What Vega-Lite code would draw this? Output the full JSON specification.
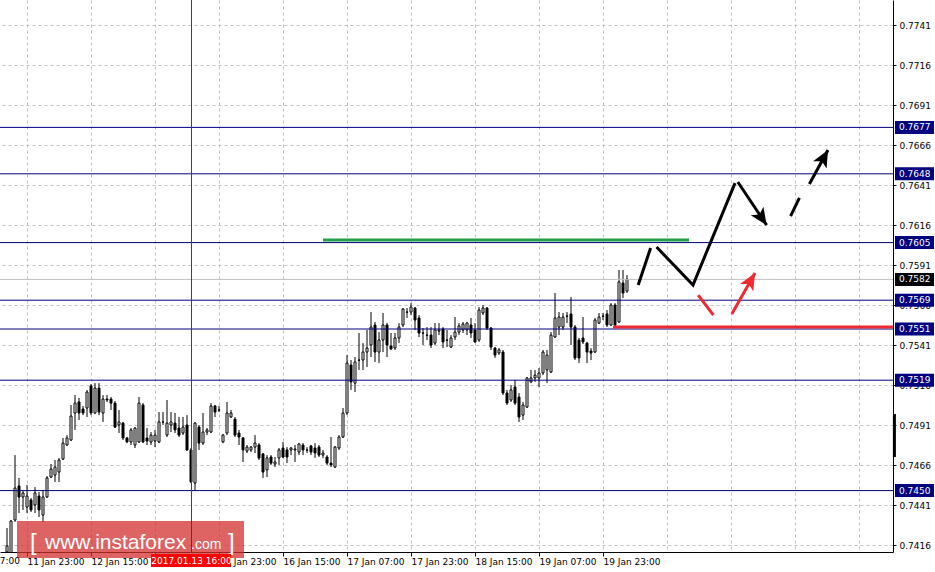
{
  "$schema": "https://vega.github.io/schema/vega-lite/v6.json",
  "width": 893,
  "height": 552,
  "autosize": "none",
  "padding": {"left": 0, "top": 0, "right": 42, "bottom": 20},
  "background": "white",
  "config": {"view": {"stroke": null}},
  "datasets": {
    "candles": [
      {"b":1,"o":0.74116,"h":0.74266,"l":0.7411,"c":0.74154},
      {"b":2,"o":0.7411,"h":0.74316,"l":0.7411,"c":0.7431},
      {"b":3,"o":0.74316,"h":0.74722,"l":0.74304,"c":0.74516},
      {"b":4,"o":0.74529,"h":0.74579,"l":0.7436,"c":0.7446},
      {"b":5,"o":0.7446,"h":0.74497,"l":0.74379,"c":0.74485},
      {"b":6,"o":0.74397,"h":0.74535,"l":0.7436,"c":0.74466},
      {"b":7,"o":0.74441,"h":0.74454,"l":0.74366,"c":0.74379},
      {"b":8,"o":0.7441,"h":0.74522,"l":0.7436,"c":0.74485},
      {"b":9,"o":0.74466,"h":0.74491,"l":0.74335,"c":0.74379},
      {"b":10,"o":0.74347,"h":0.74504,"l":0.74304,"c":0.7446},
      {"b":11,"o":0.7446,"h":0.74591,"l":0.74454,"c":0.74579},
      {"b":12,"o":0.74585,"h":0.74666,"l":0.74579,"c":0.74635},
      {"b":13,"o":0.74597,"h":0.74691,"l":0.74554,"c":0.74647},
      {"b":14,"o":0.74616,"h":0.74704,"l":0.74554,"c":0.74691},
      {"b":15,"o":0.74697,"h":0.74829,"l":0.74691,"c":0.74797},
      {"b":16,"o":0.74785,"h":0.74847,"l":0.74779,"c":0.74829},
      {"b":17,"o":0.74816,"h":0.75035,"l":0.7481,"c":0.74966},
      {"b":18,"o":0.74985,"h":0.75097,"l":0.74879,"c":0.75047},
      {"b":19,"o":0.75054,"h":0.75079,"l":0.74941,"c":0.74985},
      {"b":20,"o":0.7501,"h":0.75029,"l":0.74972,"c":0.74985},
      {"b":21,"o":0.75016,"h":0.75129,"l":0.7496,"c":0.75116},
      {"b":22,"o":0.75154,"h":0.75166,"l":0.74972,"c":0.74985},
      {"b":23,"o":0.74985,"h":0.75172,"l":0.74979,"c":0.75141},
      {"b":24,"o":0.75141,"h":0.75172,"l":0.74972,"c":0.74991},
      {"b":25,"o":0.74985,"h":0.75097,"l":0.74929,"c":0.75072},
      {"b":26,"o":0.75072,"h":0.75097,"l":0.75054,"c":0.75066},
      {"b":27,"o":0.75072,"h":0.75085,"l":0.75004,"c":0.75047},
      {"b":28,"o":0.75047,"h":0.7506,"l":0.74891,"c":0.74897},
      {"b":29,"o":0.7491,"h":0.75004,"l":0.7486,"c":0.74929},
      {"b":30,"o":0.74922,"h":0.74929,"l":0.74816,"c":0.74829},
      {"b":31,"o":0.74829,"h":0.74835,"l":0.74797,"c":0.74804},
      {"b":32,"o":0.74804,"h":0.74891,"l":0.74785,"c":0.74879},
      {"b":33,"o":0.74785,"h":0.74897,"l":0.74766,"c":0.74891},
      {"b":34,"o":0.74804,"h":0.75085,"l":0.74797,"c":0.75047},
      {"b":35,"o":0.75035,"h":0.75047,"l":0.74797,"c":0.74804},
      {"b":36,"o":0.74829,"h":0.74891,"l":0.74785,"c":0.7481},
      {"b":37,"o":0.74804,"h":0.74866,"l":0.74785,"c":0.74847},
      {"b":38,"o":0.7481,"h":0.74879,"l":0.74772,"c":0.74847},
      {"b":39,"o":0.74804,"h":0.74991,"l":0.74797,"c":0.74929},
      {"b":40,"o":0.74929,"h":0.74991,"l":0.7491,"c":0.74928},
      {"b":41,"o":0.74847,"h":0.75066,"l":0.74835,"c":0.74922},
      {"b":42,"o":0.7491,"h":0.74991,"l":0.74866,"c":0.74929},
      {"b":43,"o":0.74922,"h":0.74985,"l":0.7486,"c":0.74879},
      {"b":44,"o":0.74891,"h":0.7496,"l":0.74835,"c":0.74847},
      {"b":45,"o":0.7486,"h":0.7496,"l":0.74847,"c":0.74897},
      {"b":46,"o":0.7491,"h":0.74972,"l":0.74748,"c":0.74754},
      {"b":47,"o":0.74754,"h":0.74766,"l":0.74547,"c":0.74554},
      {"b":48,"o":0.74547,"h":0.74929,"l":0.74497,"c":0.74922},
      {"b":49,"o":0.74897,"h":0.7491,"l":0.74754,"c":0.74797},
      {"b":50,"o":0.74797,"h":0.74985,"l":0.74785,"c":0.74866},
      {"b":51,"o":0.74866,"h":0.74891,"l":0.74847,"c":0.74879},
      {"b":52,"o":0.74866,"h":0.75047,"l":0.7486,"c":0.75029},
      {"b":53,"o":0.75029,"h":0.75035,"l":0.7496,"c":0.74991},
      {"b":54,"o":0.75004,"h":0.75029,"l":0.74991,"c":0.75003},
      {"b":55,"o":0.74804,"h":0.74854,"l":0.74797,"c":0.74847},
      {"b":56,"o":0.7486,"h":0.75054,"l":0.74847,"c":0.74985},
      {"b":57,"o":0.7496,"h":0.75004,"l":0.74954,"c":0.74985},
      {"b":58,"o":0.74947,"h":0.7496,"l":0.74835,"c":0.74847},
      {"b":59,"o":0.7486,"h":0.74879,"l":0.74785,"c":0.74835},
      {"b":60,"o":0.74829,"h":0.74835,"l":0.74679,"c":0.74754},
      {"b":61,"o":0.74747,"h":0.74785,"l":0.74735,"c":0.74772},
      {"b":62,"o":0.74754,"h":0.74779,"l":0.74741,"c":0.74772},
      {"b":63,"o":0.74772,"h":0.74847,"l":0.74735,"c":0.74797},
      {"b":64,"o":0.74785,"h":0.74797,"l":0.74691,"c":0.74704},
      {"b":65,"o":0.74729,"h":0.74735,"l":0.74579,"c":0.74616},
      {"b":66,"o":0.74629,"h":0.74722,"l":0.74585,"c":0.74704},
      {"b":67,"o":0.7471,"h":0.74722,"l":0.7466,"c":0.74672},
      {"b":68,"o":0.74666,"h":0.7471,"l":0.74647,"c":0.74679},
      {"b":69,"o":0.74704,"h":0.74766,"l":0.7466,"c":0.74754},
      {"b":70,"o":0.74766,"h":0.74804,"l":0.74704,"c":0.7471},
      {"b":71,"o":0.74754,"h":0.74772,"l":0.74672,"c":0.7471},
      {"b":72,"o":0.74754,"h":0.74772,"l":0.74722,"c":0.74766},
      {"b":73,"o":0.74754,"h":0.74785,"l":0.74679,"c":0.7476},
      {"b":74,"o":0.74741,"h":0.74797,"l":0.74722,"c":0.74791},
      {"b":75,"o":0.74785,"h":0.74797,"l":0.74722,"c":0.74754},
      {"b":76,"o":0.74754,"h":0.74772,"l":0.74735,"c":0.74753},
      {"b":77,"o":0.74779,"h":0.74785,"l":0.74722,"c":0.74741},
      {"b":78,"o":0.74766,"h":0.74797,"l":0.74704,"c":0.74735},
      {"b":79,"o":0.74772,"h":0.74785,"l":0.7471,"c":0.74722},
      {"b":80,"o":0.74722,"h":0.74754,"l":0.74704,"c":0.74735},
      {"b":81,"o":0.7471,"h":0.74722,"l":0.7466,"c":0.74672},
      {"b":82,"o":0.74672,"h":0.74835,"l":0.74647,"c":0.7466},
      {"b":83,"o":0.74647,"h":0.74779,"l":0.74641,"c":0.74772},
      {"b":84,"o":0.74766,"h":0.74847,"l":0.74754,"c":0.74835},
      {"b":85,"o":0.74835,"h":0.75016,"l":0.74829,"c":0.74985},
      {"b":86,"o":0.74985,"h":0.75347,"l":0.74972,"c":0.75297},
      {"b":87,"o":0.75285,"h":0.75316,"l":0.75129,"c":0.75179},
      {"b":88,"o":0.75172,"h":0.75335,"l":0.75116,"c":0.75304},
      {"b":89,"o":0.75316,"h":0.75485,"l":0.75254,"c":0.75315},
      {"b":90,"o":0.75316,"h":0.75422,"l":0.75254,"c":0.75366},
      {"b":91,"o":0.75366,"h":0.75504,"l":0.75272,"c":0.75391},
      {"b":92,"o":0.7541,"h":0.75616,"l":0.75335,"c":0.75522},
      {"b":93,"o":0.75535,"h":0.75554,"l":0.75304,"c":0.75366},
      {"b":94,"o":0.75366,"h":0.75491,"l":0.75297,"c":0.75441},
      {"b":95,"o":0.75441,"h":0.7561,"l":0.75366,"c":0.75535},
      {"b":96,"o":0.75535,"h":0.75547,"l":0.75335,"c":0.7541},
      {"b":97,"o":0.75404,"h":0.75485,"l":0.75379,"c":0.75385},
      {"b":98,"o":0.75391,"h":0.75485,"l":0.75379,"c":0.75454},
      {"b":99,"o":0.75454,"h":0.75547,"l":0.75422,"c":0.75522},
      {"b":100,"o":0.75535,"h":0.75641,"l":0.75522,"c":0.75635},
      {"b":101,"o":0.75616,"h":0.75641,"l":0.75579,"c":0.75615},
      {"b":102,"o":0.75616,"h":0.75672,"l":0.75597,"c":0.75647},
      {"b":103,"o":0.75641,"h":0.75647,"l":0.75504,"c":0.75566},
      {"b":104,"o":0.75579,"h":0.75597,"l":0.7546,"c":0.75485},
      {"b":105,"o":0.75485,"h":0.75516,"l":0.7541,"c":0.75484},
      {"b":106,"o":0.75472,"h":0.75522,"l":0.75441,"c":0.75471},
      {"b":107,"o":0.75472,"h":0.75522,"l":0.75391,"c":0.7541},
      {"b":108,"o":0.75422,"h":0.75547,"l":0.7541,"c":0.75504},
      {"b":109,"o":0.75497,"h":0.75547,"l":0.75472,"c":0.75504},
      {"b":110,"o":0.7551,"h":0.75522,"l":0.75391,"c":0.75429},
      {"b":111,"o":0.75441,"h":0.75504,"l":0.75397,"c":0.7544},
      {"b":112,"o":0.75397,"h":0.75472,"l":0.75391,"c":0.75454},
      {"b":113,"o":0.7546,"h":0.75585,"l":0.75441,"c":0.75491},
      {"b":114,"o":0.75491,"h":0.75547,"l":0.75472,"c":0.75529},
      {"b":115,"o":0.75504,"h":0.75554,"l":0.75485,"c":0.75541},
      {"b":116,"o":0.75504,"h":0.75554,"l":0.75472,"c":0.75547},
      {"b":117,"o":0.75535,"h":0.75579,"l":0.75454,"c":0.75485},
      {"b":118,"o":0.75504,"h":0.75547,"l":0.75422,"c":0.75429},
      {"b":119,"o":0.75441,"h":0.75647,"l":0.75429,"c":0.75629},
      {"b":120,"o":0.7561,"h":0.7566,"l":0.75597,"c":0.75641},
      {"b":121,"o":0.75641,"h":0.75647,"l":0.75504,"c":0.75516},
      {"b":122,"o":0.75516,"h":0.75522,"l":0.75379,"c":0.75397},
      {"b":123,"o":0.75391,"h":0.75397,"l":0.75329,"c":0.75347},
      {"b":124,"o":0.7536,"h":0.75391,"l":0.75347,"c":0.75379},
      {"b":125,"o":0.75366,"h":0.75379,"l":0.75097,"c":0.7511},
      {"b":126,"o":0.7511,"h":0.75129,"l":0.75035,"c":0.75047},
      {"b":127,"o":0.75066,"h":0.7516,"l":0.75054,"c":0.75129},
      {"b":128,"o":0.75147,"h":0.75191,"l":0.75035,"c":0.75047},
      {"b":129,"o":0.75085,"h":0.7511,"l":0.74929,"c":0.7496},
      {"b":130,"o":0.74972,"h":0.75054,"l":0.74941,"c":0.75035},
      {"b":131,"o":0.75022,"h":0.7521,"l":0.75016,"c":0.75204},
      {"b":132,"o":0.75179,"h":0.75254,"l":0.75172,"c":0.75204},
      {"b":133,"o":0.75204,"h":0.75254,"l":0.75179,"c":0.75222},
      {"b":134,"o":0.75204,"h":0.75266,"l":0.75147,"c":0.75235},
      {"b":135,"o":0.75235,"h":0.75379,"l":0.75222,"c":0.75366},
      {"b":136,"o":0.75254,"h":0.75379,"l":0.75172,"c":0.75347},
      {"b":137,"o":0.75241,"h":0.75491,"l":0.75235,"c":0.75472},
      {"b":138,"o":0.7546,"h":0.75735,"l":0.75454,"c":0.75579},
      {"b":139,"o":0.75522,"h":0.75616,"l":0.75472,"c":0.75585},
      {"b":140,"o":0.75522,"h":0.7561,"l":0.75504,"c":0.75585},
      {"b":141,"o":0.75591,"h":0.75616,"l":0.75547,"c":0.7559},
      {"b":142,"o":0.75604,"h":0.7571,"l":0.7541,"c":0.75522},
      {"b":143,"o":0.75522,"h":0.75535,"l":0.75316,"c":0.75329},
      {"b":144,"o":0.75441,"h":0.75454,"l":0.75297,"c":0.75329},
      {"b":145,"o":0.75454,"h":0.75585,"l":0.75416,"c":0.75429},
      {"b":146,"o":0.75422,"h":0.75429,"l":0.75297,"c":0.75366},
      {"b":147,"o":0.75372,"h":0.75391,"l":0.75316,"c":0.7536},
      {"b":148,"o":0.75366,"h":0.75579,"l":0.7536,"c":0.75566},
      {"b":149,"o":0.75547,"h":0.7561,"l":0.75541,"c":0.75585},
      {"b":150,"o":0.75591,"h":0.7561,"l":0.75566,"c":0.7559},
      {"b":151,"o":0.75604,"h":0.75629,"l":0.75522,"c":0.75535},
      {"b":152,"o":0.75535,"h":0.75672,"l":0.75529,"c":0.7566},
      {"b":153,"o":0.7566,"h":0.75672,"l":0.75522,"c":0.75535},
      {"b":154,"o":0.75554,"h":0.75879,"l":0.75547,"c":0.75804},
      {"b":155,"o":0.75797,"h":0.75879,"l":0.75704,"c":0.75735},
      {"b":156,"o":0.75747,"h":0.75847,"l":0.75735,"c":0.75822}
    ],
    "levels": [{"p":0.7677},{"p":0.7648},{"p":0.7605},{"p":0.7569},{"p":0.7551},{"p":0.7519},{"p":0.745}],
    "bid": [{"p":0.7582}],
    "greenLine": [{"b":80,"p":0.76066},{"b":171.5,"p":0.76066}],
    "redLine": [{"b":152.5,"p":0.75522},{"b":222.5,"p":0.75522}],
    "blackPath": [
      {"s":1,"b":158.8,"p":0.75785},{"s":1,"b":161.9,"p":0.76016},
      {"s":2,"b":163.4,"p":0.76022},{"s":2,"b":172.5,"p":0.75785},{"s":2,"b":183,"p":0.76422},
      {"s":3,"b":183.7,"p":0.76429},{"s":3,"b":190.9,"p":0.7616},
      {"s":4,"b":196.9,"p":0.76216},{"s":4,"b":199.1,"p":0.76329},
      {"s":5,"b":201.6,"p":0.76416},{"s":5,"b":206.25,"p":0.76629}
    ],
    "redPath": [
      {"s":1,"b":173.8,"p":0.75722},{"s":1,"b":177.6,"p":0.75597},
      {"s":2,"b":182.2,"p":0.75604},{"s":2,"b":188,"p":0.7586}
    ],
    "headA": [{"b":190.9,"p":0.7616}],
    "headB": [{"b":206.25,"p":0.76629}],
    "headC": [{"b":188,"p":0.7586}],
    "one": [{}]
  },
  "layer": [
    {
      "data": {"name": "candles"},
      "mark": {"type": "rule", "color": "black", "strokeWidth": 1, "clip": true},
      "encoding": {
        "x": {"field": "b", "type": "quantitative", "scale": {"domain": [-0.75, 222.5], "nice": false, "zero": false, "padding": 0},
          "axis": {
            "values": [6,14,22,30,38,46,54,62,70,78,86,94,102,110,118,126,134,142,150,158,166,174,182,190,198,206,214],
            "grid": true, "gridColor": "#c0c0c0", "gridDash": [3,3], "gridWidth": 1,
            "domain": true, "domainColor": "#000000", "domainWidth": 1,
            "ticks": true, "tickColor": "#000000", "tickSize": 4,
            "tickOpacity": {"condition": {"test": "datum.value <= 150 && (datum.value - 6) % 16 == 0", "value": 1}, "value": 0},
            "labelExpr": "datum.value == 6 ? '11 Jan 23:00' : datum.value == 22 ? '12 Jan 15:00' : datum.value == 38 ? '13 Jan 07:00' : datum.value == 54 ? '13 Jan 23:00' : datum.value == 70 ? '16 Jan 15:00' : datum.value == 86 ? '17 Jan 07:00' : datum.value == 102 ? '17 Jan 23:00' : datum.value == 118 ? '18 Jan 15:00' : datum.value == 134 ? '19 Jan 07:00' : datum.value == 150 ? '19 Jan 23:00' : ''",
            "labelAlign": "left", "labelBaseline": "top", "labelPadding": 1,
            "labelFont": "DejaVu Sans", "labelFontSize": 9, "labelColor": "#000000",
            "labelOverlap": false, "labelFlush": false, "title": null
          }},
        "y": {"field": "l", "type": "quantitative", "scale": {"domain": [0.7411625, 0.7756625], "nice": false, "zero": false},
          "axis": {
            "orient": "right",
            "values": [0.7416,0.7441,0.7466,0.7491,0.7516,0.7541,0.7566,0.7591,0.7616,0.7641,0.7666,0.7691,0.7716,0.7741],
            "format": ".4f",
            "grid": true, "gridColor": "#c0c0c0", "gridDash": [3,3], "gridWidth": 1,
            "domain": true, "domainColor": "#000000", "domainWidth": 1,
            "ticks": true, "tickColor": "#000000", "tickSize": 3,
            "labelAlign": "left", "labelBaseline": "middle", "labelPadding": 3,
            "labelFont": "DejaVu Sans", "labelFontSize": 9, "labelColor": "#000000",
            "labelOverlap": false, "labelFlush": false, "title": null
          }},
        "y2": {"field": "h"}
      }
    },
    {
      "data": {"name": "candles"},
      "mark": {"type": "bar", "size": 2, "stroke": "black", "strokeWidth": 1, "clip": true},
      "encoding": {
        "x": {"field": "b", "type": "quantitative", "title": null, "scale": {"domain": [-0.75, 222.5], "nice": false, "zero": false, "padding": 0}},
        "y": {"field": "o", "type": "quantitative", "title": null, "scale": {"domain": [0.7411625, 0.7756625], "nice": false, "zero": false}},
        "y2": {"field": "c"},
        "fill": {"condition": {"test": "datum.c >= datum.o", "value": "white"}, "value": "black"}
      }
    },
    {
      "data": {"name": "levels"},
      "mark": {"type": "rule", "color": "#000080", "strokeWidth": 1},
      "encoding": {
        "y": {"field": "p", "type": "quantitative", "title": null, "scale": {"domain": [0.7411625, 0.7756625], "nice": false, "zero": false}}
      }
    },
    {
      "data": {"name": "bid"},
      "mark": {"type": "rule", "color": "#c0c0c0", "strokeWidth": 1},
      "encoding": {
        "y": {"field": "p", "type": "quantitative", "title": null, "scale": {"domain": [0.7411625, 0.7756625], "nice": false, "zero": false}}
      }
    },
    {
      "data": {"name": "greenLine"},
      "mark": {"type": "line", "color": "#22a04b", "strokeWidth": 3, "strokeCap": "butt"},
      "encoding": {
        "x": {"field": "b", "type": "quantitative", "title": null, "scale": {"domain": [-0.75, 222.5], "nice": false, "zero": false, "padding": 0}},
        "y": {"field": "p", "type": "quantitative", "title": null, "scale": {"domain": [0.7411625, 0.7756625], "nice": false, "zero": false}}
      }
    },
    {
      "data": {"name": "redLine"},
      "mark": {"type": "line", "color": "#ee2a33", "strokeWidth": 3, "strokeCap": "butt"},
      "encoding": {
        "x": {"field": "b", "type": "quantitative", "title": null, "scale": {"domain": [-0.75, 222.5], "nice": false, "zero": false, "padding": 0}},
        "y": {"field": "p", "type": "quantitative", "title": null, "scale": {"domain": [0.7411625, 0.7756625], "nice": false, "zero": false}}
      }
    },
    {
      "data": {"name": "blackPath"},
      "mark": {"type": "line", "color": "black", "strokeWidth": 3, "strokeCap": "butt"},
      "encoding": {
        "x": {"field": "b", "type": "quantitative", "title": null, "scale": {"domain": [-0.75, 222.5], "nice": false, "zero": false, "padding": 0}},
        "y": {"field": "p", "type": "quantitative", "title": null, "scale": {"domain": [0.7411625, 0.7756625], "nice": false, "zero": false}},
        "detail": {"field": "s", "type": "nominal"},
        "order": {"field": "b", "type": "quantitative"}
      }
    },
    {
      "data": {"name": "redPath"},
      "mark": {"type": "line", "color": "#ee2a33", "strokeWidth": 3, "strokeCap": "butt"},
      "encoding": {
        "x": {"field": "b", "type": "quantitative", "title": null, "scale": {"domain": [-0.75, 222.5], "nice": false, "zero": false, "padding": 0}},
        "y": {"field": "p", "type": "quantitative", "title": null, "scale": {"domain": [0.7411625, 0.7756625], "nice": false, "zero": false}},
        "detail": {"field": "s", "type": "nominal"},
        "order": {"field": "b", "type": "quantitative"}
      }
    },
    {
      "data": {"name": "headA"},
      "mark": {"type": "point", "shape": "M0,0L0.45,1L0,0.75L-0.45,1Z", "size": 1156, "filled": true, "color": "black", "opacity": 1, "angle": 146},
      "encoding": {
        "x": {"field": "b", "type": "quantitative", "title": null, "scale": {"domain": [-0.75, 222.5], "nice": false, "zero": false, "padding": 0}},
        "y": {"field": "p", "type": "quantitative", "title": null, "scale": {"domain": [0.7411625, 0.7756625], "nice": false, "zero": false}}
      }
    },
    {
      "data": {"name": "headB"},
      "mark": {"type": "point", "shape": "M0,0L0.45,1L0,0.75L-0.45,1Z", "size": 1156, "filled": true, "color": "black", "opacity": 1, "angle": 28.6},
      "encoding": {
        "x": {"field": "b", "type": "quantitative", "title": null, "scale": {"domain": [-0.75, 222.5], "nice": false, "zero": false, "padding": 0}},
        "y": {"field": "p", "type": "quantitative", "title": null, "scale": {"domain": [0.7411625, 0.7756625], "nice": false, "zero": false}}
      }
    },
    {
      "data": {"name": "headC"},
      "mark": {"type": "point", "shape": "M0,0L0.45,1L0,0.75L-0.45,1Z", "size": 1156, "filled": true, "color": "#ee2a33", "opacity": 1, "angle": 29.4},
      "encoding": {
        "x": {"field": "b", "type": "quantitative", "title": null, "scale": {"domain": [-0.75, 222.5], "nice": false, "zero": false, "padding": 0}},
        "y": {"field": "p", "type": "quantitative", "title": null, "scale": {"domain": [0.7411625, 0.7756625], "nice": false, "zero": false}}
      }
    },
    {
      "data": {"name": "one"},
      "mark": {"type": "rect", "fill": "#d32f2f", "fillOpacity": 0.75},
      "encoding": {
        "x": {"datum": 3.5, "type": "quantitative", "title": null, "scale": {"domain": [-0.75, 222.5], "nice": false, "zero": false, "padding": 0}},
        "x2": {"datum": 60.25},
        "y": {"datum": 0.7431, "type": "quantitative", "title": null, "scale": {"domain": [0.7411625, 0.7756625], "nice": false, "zero": false}},
        "y2": {"datum": 0.74079}
      }
    },
    {
      "data": {"name": "one"},
      "mark": {"type": "text", "text": "[", "font": "Liberation Sans", "fontSize": 24, "color": "white", "align": "left", "baseline": "alphabetic"},
      "encoding": {
        "x": {"datum": 6.75, "type": "quantitative", "title": null, "scale": {"domain": [-0.75, 222.5], "nice": false, "zero": false, "padding": 0}},
        "y": {"datum": 0.74128, "type": "quantitative", "title": null, "scale": {"domain": [0.7411625, 0.7756625], "nice": false, "zero": false}}
      }
    },
    {
      "data": {"name": "one"},
      "mark": {"type": "text", "text": "www.instaforex", "font": "Liberation Sans", "fontSize": 21, "color": "white", "align": "left", "baseline": "alphabetic"},
      "encoding": {
        "x": {"datum": 10.5, "type": "quantitative", "title": null, "scale": {"domain": [-0.75, 222.5], "nice": false, "zero": false, "padding": 0}},
        "y": {"datum": 0.74135, "type": "quantitative", "title": null, "scale": {"domain": [0.7411625, 0.7756625], "nice": false, "zero": false}}
      }
    },
    {
      "data": {"name": "one"},
      "mark": {"type": "text", "text": ".com", "font": "Liberation Sans", "fontSize": 14, "color": "white", "align": "left", "baseline": "alphabetic"},
      "encoding": {
        "x": {"datum": 47, "type": "quantitative", "title": null, "scale": {"domain": [-0.75, 222.5], "nice": false, "zero": false, "padding": 0}},
        "y": {"datum": 0.74135, "type": "quantitative", "title": null, "scale": {"domain": [0.7411625, 0.7756625], "nice": false, "zero": false}}
      }
    },
    {
      "data": {"name": "one"},
      "mark": {"type": "text", "text": "]", "font": "Liberation Sans", "fontSize": 24, "color": "white", "align": "left", "baseline": "alphabetic"},
      "encoding": {
        "x": {"datum": 56.25, "type": "quantitative", "title": null, "scale": {"domain": [-0.75, 222.5], "nice": false, "zero": false, "padding": 0}},
        "y": {"datum": 0.74128, "type": "quantitative", "title": null, "scale": {"domain": [0.7411625, 0.7756625], "nice": false, "zero": false}}
      }
    },
    {
      "data": {"name": "one"},
      "mark": {"type": "rule", "color": "#e00000", "strokeWidth": 1},
      "encoding": {
        "x": {"datum": 47.125, "type": "quantitative", "title": null, "scale": {"domain": [-0.75, 222.5], "nice": false, "zero": false, "padding": 0}}
      }
    },
    {
      "data": {"name": "one"},
      "mark": {"type": "rect", "fill": "#ff0000"},
      "encoding": {
        "x": {"datum": 37, "type": "quantitative", "title": null, "scale": {"domain": [-0.75, 222.5], "nice": false, "zero": false, "padding": 0}},
        "x2": {"datum": 57},
        "y": {"datum": 0.74104, "type": "quantitative", "title": null, "scale": {"domain": [0.7411625, 0.7756625], "nice": false, "zero": false}},
        "y2": {"datum": 0.74022}
      }
    },
    {
      "data": {"name": "one"},
      "mark": {"type": "text", "text": "2017.01.13 16:00", "font": "DejaVu Sans", "fontSize": 9, "color": "white", "align": "center", "baseline": "middle"},
      "encoding": {
        "x": {"datum": 47.125, "type": "quantitative", "title": null, "scale": {"domain": [-0.75, 222.5], "nice": false, "zero": false, "padding": 0}},
        "y": {"datum": 0.74063, "type": "quantitative", "title": null, "scale": {"domain": [0.7411625, 0.7756625], "nice": false, "zero": false}}
      }
    },
    {
      "data": {"name": "one"},
      "mark": {"type": "text", "text": "11 Jan 07:00", "font": "DejaVu Sans", "fontSize": 9, "color": "black", "align": "left", "baseline": "top"},
      "encoding": {
        "x": {"datum": -10, "type": "quantitative", "title": null, "scale": {"domain": [-0.75, 222.5], "nice": false, "zero": false, "padding": 0}},
        "y": {"datum": 0.74085, "type": "quantitative", "title": null, "scale": {"domain": [0.7411625, 0.7756625], "nice": false, "zero": false}}
      }
    },
    {
      "data": {"name": "levels"},
      "mark": {"type": "rule", "color": "#000080", "strokeWidth": 13, "strokeCap": "butt"},
      "encoding": {
        "x": {"datum": 223, "type": "quantitative", "title": null, "scale": {"domain": [-0.75, 222.5], "nice": false, "zero": false, "padding": 0}},
        "x2": {"datum": 232.75},
        "y": {"field": "p", "type": "quantitative", "title": null, "scale": {"domain": [0.7411625, 0.7756625], "nice": false, "zero": false}}
      }
    },
    {
      "data": {"name": "bid"},
      "mark": {"type": "rule", "color": "#000000", "strokeWidth": 13, "strokeCap": "butt"},
      "encoding": {
        "x": {"datum": 223, "type": "quantitative", "title": null, "scale": {"domain": [-0.75, 222.5], "nice": false, "zero": false, "padding": 0}},
        "x2": {"datum": 232.75},
        "y": {"field": "p", "type": "quantitative", "title": null, "scale": {"domain": [0.7411625, 0.7756625], "nice": false, "zero": false}}
      }
    },
    {
      "data": {"name": "levels"},
      "mark": {"type": "text", "font": "DejaVu Sans", "fontSize": 9, "color": "white", "align": "left", "baseline": "middle"},
      "encoding": {
        "x": {"datum": 224, "type": "quantitative", "title": null, "scale": {"domain": [-0.75, 222.5], "nice": false, "zero": false, "padding": 0}},
        "y": {"field": "p", "type": "quantitative", "title": null, "scale": {"domain": [0.7411625, 0.7756625], "nice": false, "zero": false}},
        "text": {"field": "p", "type": "quantitative", "format": ".4f"}
      }
    },
    {
      "data": {"name": "bid"},
      "mark": {"type": "text", "font": "DejaVu Sans", "fontSize": 9, "color": "white", "align": "left", "baseline": "middle"},
      "encoding": {
        "x": {"datum": 224, "type": "quantitative", "title": null, "scale": {"domain": [-0.75, 222.5], "nice": false, "zero": false, "padding": 0}},
        "y": {"field": "p", "type": "quantitative", "title": null, "scale": {"domain": [0.7411625, 0.7756625], "nice": false, "zero": false}},
        "text": {"field": "p", "type": "quantitative", "format": ".4f"}
      }
    },
    {
      "data": {"name": "one"},
      "mark": {"type": "rule", "color": "#000000", "strokeWidth": 3, "strokeCap": "butt"},
      "encoding": {
        "x": {"datum": 222.85, "type": "quantitative", "title": null, "scale": {"domain": [-0.75, 222.5], "nice": false, "zero": false, "padding": 0}},
        "y": {"datum": 0.74979, "type": "quantitative", "title": null, "scale": {"domain": [0.7411625, 0.7756625], "nice": false, "zero": false}},
        "y2": {"datum": 0.7471}
      }
    }
  ]
}
